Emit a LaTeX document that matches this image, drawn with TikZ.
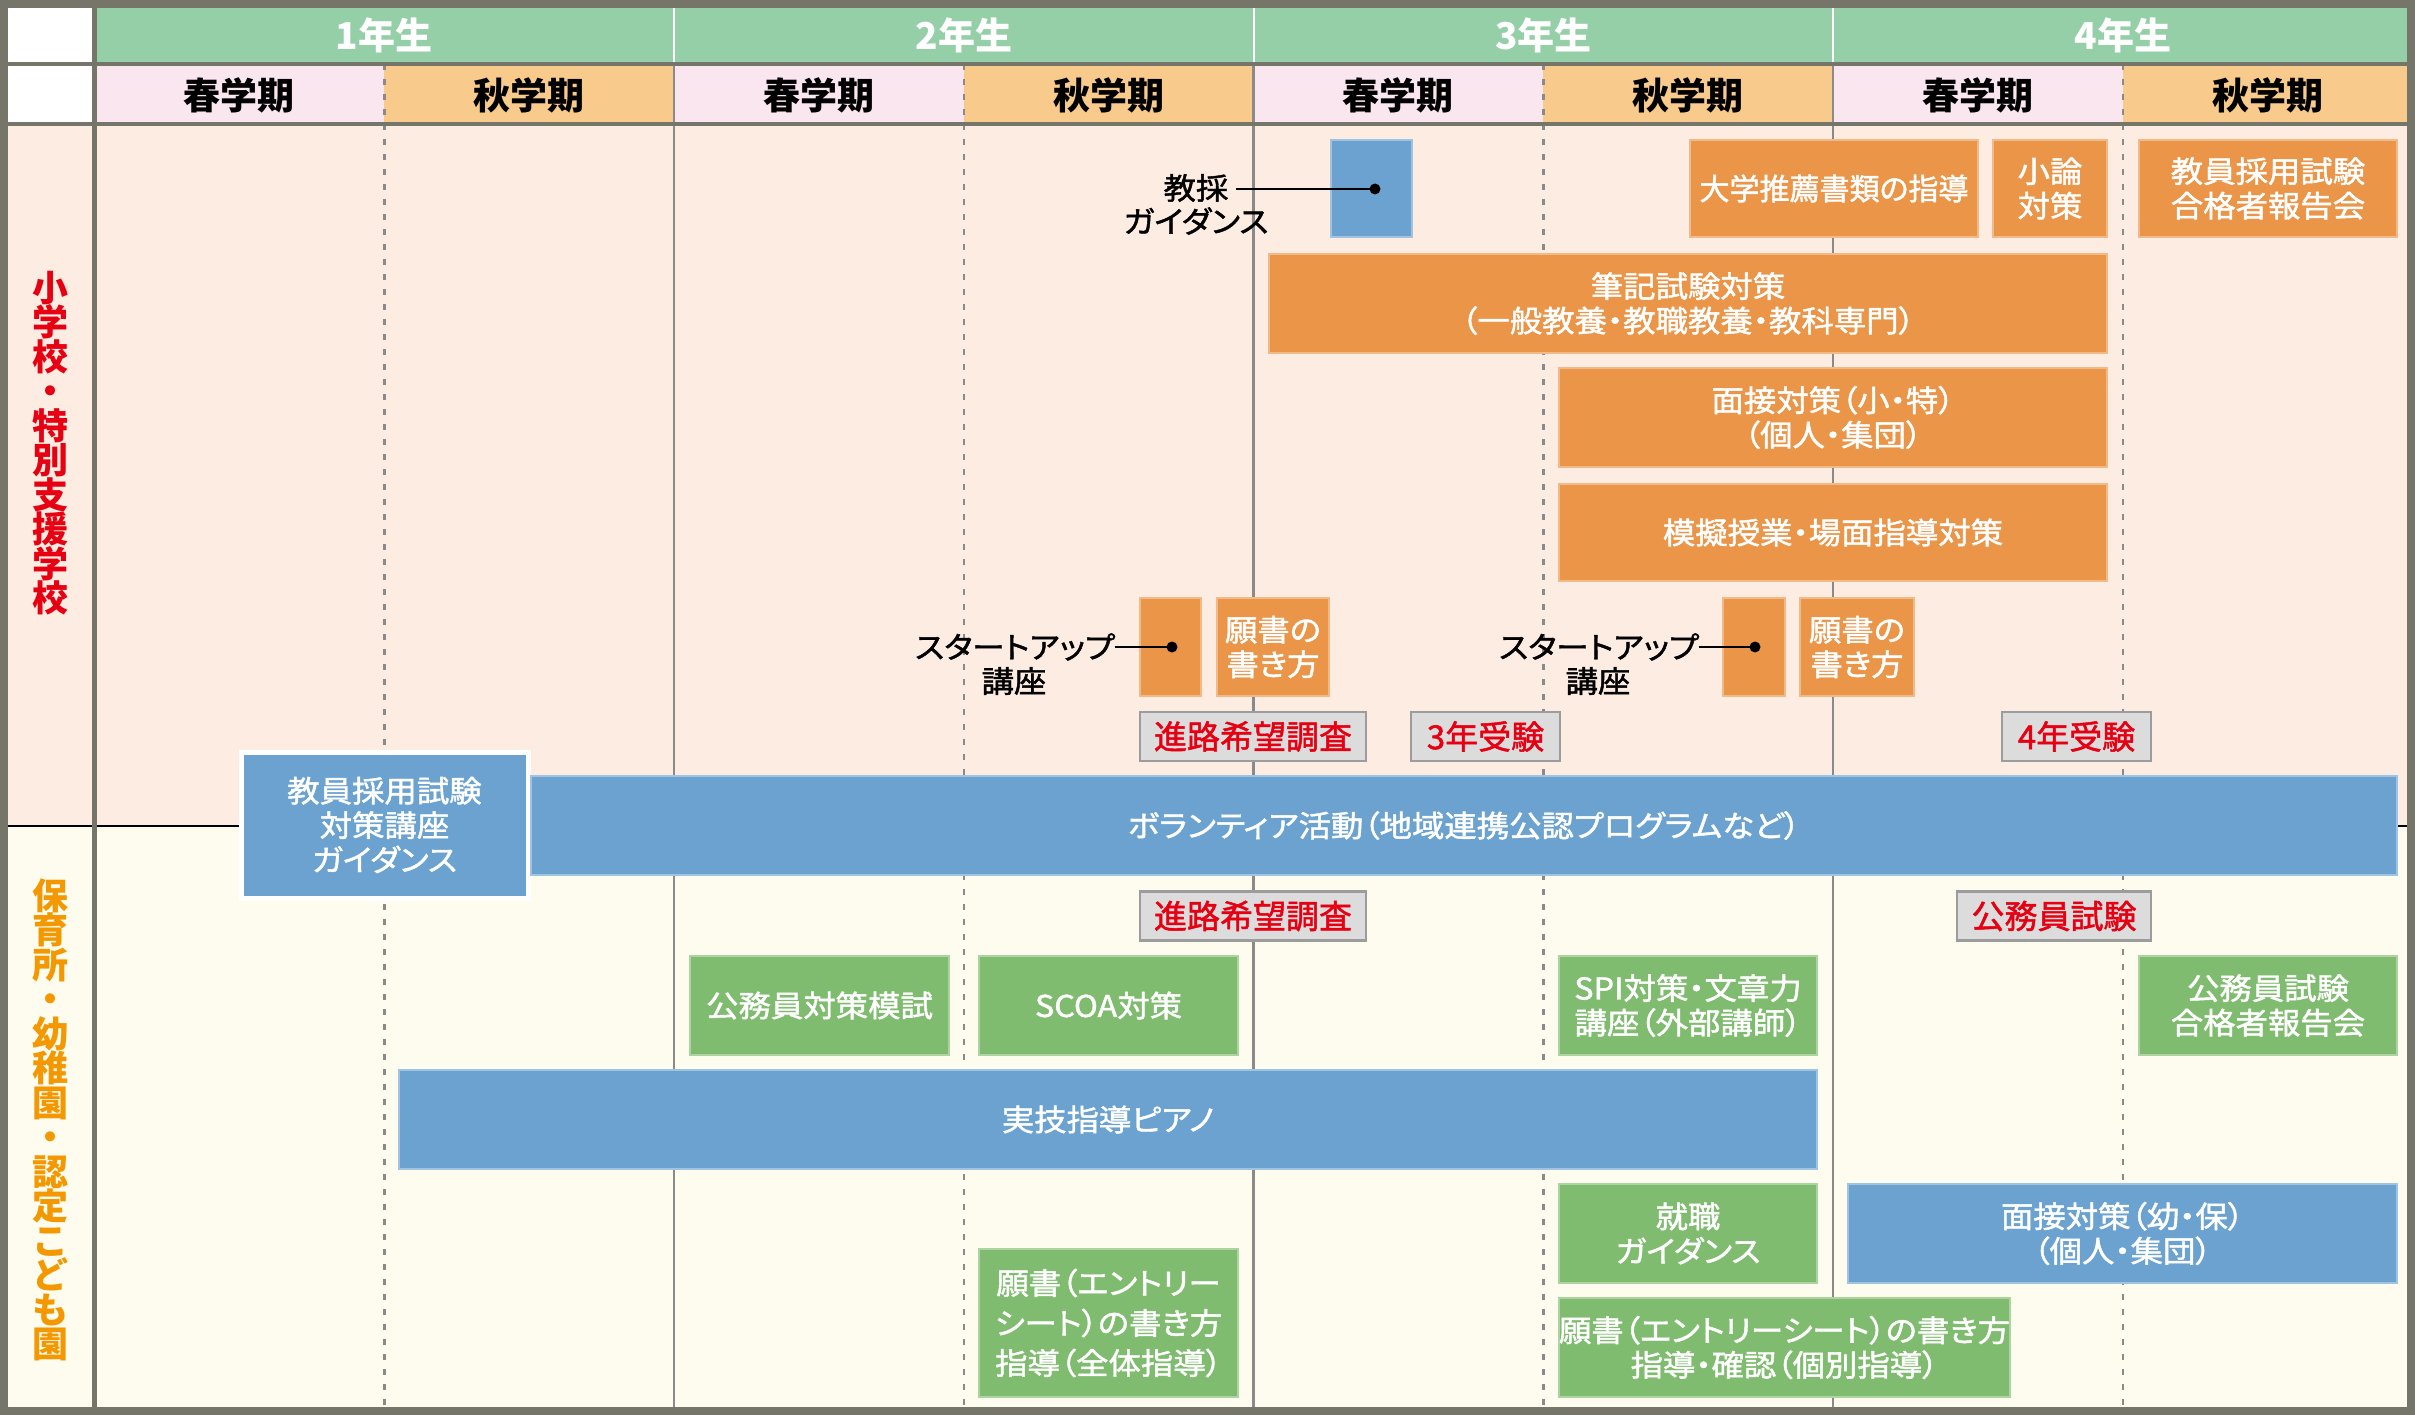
\documentclass[tikz,border=0pt]{standalone}
\usepackage{fontspec}
\setmainfont{Noto Sans CJK JP}
\newfontfamily\medfont{Noto Sans CJK JP}[FakeBold=1.5]
\newfontfamily\boxfont{Noto Sans CJK JP}[RawFeature={+palt},FakeStretch=1.08,FakeBold=1.5]
\newfontfamily\narrowboxfont{Noto Sans CJK JP}[RawFeature={+palt},FakeBold=1.5]
\definecolor{framec}{HTML}{76756A}
\definecolor{yeargreen}{HTML}{94CFA8}
\definecolor{sempink}{HTML}{FAE6EF}
\definecolor{semorange}{HTML}{F8CB8D}
\definecolor{bgtop}{HTML}{FDECE2}
\definecolor{bgbot}{HTML}{FEFBEF}
\definecolor{boxorange}{HTML}{EA9548}
\definecolor{boxblue}{HTML}{6BA2D0}
\definecolor{boxgreen}{HTML}{80BC6F}
\definecolor{tagfill}{HTML}{DCDCDC}
\definecolor{tagline}{HTML}{9C9C9C}
\definecolor{tagred}{HTML}{E60012}
\definecolor{labelorange}{HTML}{F39800}
\definecolor{gridgray}{HTML}{8A8A8A}
\newcommand\fsz[2]{\fontsize{#1}{#2}\selectfont}
\begin{document}
\begin{tikzpicture}[x=1pt,y=-1pt,
  every node/.style={inner sep=0pt,outer sep=0pt},
  evbox/.style={rectangle,align=center,text=white,font=\boxfont\fsz{30}{34.5},line width=2pt},
  obox/.style={evbox,fill=boxorange,draw=boxorange!65!white},
  bbox/.style={evbox,fill=boxblue,draw=boxblue!65!white},
  gbox/.style={evbox,fill=boxgreen,draw=boxgreen!65!white},
  tagbox/.style={rectangle,fill=tagfill,draw=tagline,line width=2.5pt,text=tagred,font=\medfont\fsz{33}{36}},
  callout/.style={font=\boxfont\fsz{30}{34},text=black},
  yeartxt/.style={font=\bfseries\fsz{37}{40},text=white},
  semtxt/.style={font=\bfseries\fsz{37}{40},text=black},
  sidelabel/.style={align=center,font=\bfseries\fsz{36}{34.5}},
  solidgrid/.style={gridgray,line width=2.5pt},
  dashgrid/.style={gridgray,line width=2.5pt,dash pattern=on 6pt off 9pt},
  connector/.style={black,line width=2pt}
]
\useasboundingbox (0,0) rectangle (2415,1415);
% backgrounds
\fill[bgtop] (0,124) rectangle (2415,826);
\fill[bgbot] (0,826) rectangle (2415,1415);
\fill[white] (0,0) rectangle (94.5,124);
\fill[yeargreen] (94.5,0) rectangle (2415,64);
\foreach \i in {0,1,2,3}{
  \fill[sempink] (94.5+579.5*\i,64) rectangle (384.25+579.5*\i,124);
  \fill[semorange] (384.25+579.5*\i,64) rectangle (674+579.5*\i,124);
}
% grid lines
\foreach \x in {674,1253.5,1833}{
  \draw[white,line width=2pt] (\x,4) -- (\x,64);
  \draw[solidgrid] (\x,64) -- (\x,1411);
}
\foreach \x in {384.25,963.75,1543.25,2122.75}{
  \draw[dashgrid] (\x,64) -- (\x,1411);
}
\draw[black,line width=2.5pt] (4,826) -- (2411,826);
% frame
\draw[framec,line width=4.5pt] (0,64) -- (2415,64);
\draw[framec,line width=4.5pt] (0,124) -- (2415,124);
\draw[framec,line width=5pt] (94.5,0) -- (94.5,1415);
\draw[framec,line width=8pt] (4,4) rectangle (2411,1411);
% header texts
\node[yeartxt] (y1) at (384.25,35) {1年生};
\node[yeartxt] (y2) at (963.75,35) {2年生};
\node[yeartxt] (y3) at (1543.25,35) {3年生};
\node[yeartxt] (y4) at (2122.75,35) {4年生};
\node[semtxt] (s1) at (239.4,95) {春学期};
\node[semtxt] (s2) at (529.1,95) {秋学期};
\node[semtxt] (s3) at (818.9,95) {春学期};
\node[semtxt] (s4) at (1108.6,95) {秋学期};
\node[semtxt] (s5) at (1398.4,95) {春学期};
\node[semtxt] (s6) at (1688.1,95) {秋学期};
\node[semtxt] (s7) at (1977.9,95) {春学期};
\node[semtxt] (s8) at (2267.6,95) {秋学期};
% side labels
\node[sidelabel,text=tagred] (side1) at (50,443) {小\\学\\校\\・\\特\\別\\支\\援\\学\\校};
\node[sidelabel,text=labelorange] (side2) at (50,1120) {保\\育\\所\\・\\幼\\稚\\園\\・\\認\\定\\こ\\ど\\も\\園};
% top section boxes
\node[bbox,minimum width=81pt,minimum height=97pt] (kyosai) at (1371.5,188.5) {};
\node[obox,minimum width=288pt,minimum height=97pt,font=\narrowboxfont\fsz{30}{34.5}] (suisen) at (1834,188.5) {大学推薦書類の指導};
\node[obox,minimum width=114pt,minimum height=97pt] (shoron) at (2050,188.5) {小論\\対策};
\node[obox,minimum width=258pt,minimum height=97pt] (gokaku1) at (2268,188.5) {教員採用試験\\合格者報告会};
\node[obox,minimum width=838pt,minimum height=99pt] (hikki) at (1688,303.5) {筆記試験対策\\（一般教養・教職教養・教科専門）};
\node[obox,minimum width=548pt,minimum height=99pt] (mensetsu1) at (1833,417.5) {面接対策（小・特）\\（個人・集団）};
\node[obox,minimum width=548pt,minimum height=97pt] (mogi) at (1833,532.5) {模擬授業・場面指導対策};
\node[obox,minimum width=61pt,minimum height=98pt] (start1) at (1170.5,647) {};
\node[obox,minimum width=112pt,minimum height=98pt] (gan1) at (1273,647) {願書の\\書き方};
\node[obox,minimum width=62pt,minimum height=98pt] (start2) at (1754,647) {};
\node[obox,minimum width=114pt,minimum height=98pt] (gan2) at (1857,647) {願書の\\書き方};
\node[tagbox,minimum width=226pt,minimum height=49pt] (tag1) at (1253,736.5) {進路希望調査};
\node[tagbox,minimum width=149pt,minimum height=49pt] (tag2) at (1485.5,736.5) {3年受験};
\node[tagbox,minimum width=149pt,minimum height=49pt] (tag3) at (2076.5,736.5) {4年受験};
% callouts
\node[callout] (kyA) at (1196,188) {教採};
\node[callout] (kyB) at (1196,221) {ガイダンス};
\coordinate (kydot) at (1375,189);
\draw[connector] (kyA.east |- kydot) ++(8,0) -- (kydot);
\fill (kydot) circle (5.5);
\node[callout] (suA) at (1015,647) {スタートアップ};
\node[callout] (suB) at (1014,681) {講座};
\coordinate (sudot1) at (1172,647);
\draw[connector] (suA.east |- sudot1) -- (sudot1);
\fill (sudot1) circle (5.5);
\node[callout] (suC) at (1599,647) {スタートアップ};
\node[callout] (suD) at (1598,681) {講座};
\coordinate (sudot2) at (1755,647);
\draw[connector] (suC.east |- sudot2) -- (sudot2);
\fill (sudot2) circle (5.5);
% spanning
\node[bbox,draw=white,line width=5pt,minimum width=287pt,minimum height=146pt] (kyoin) at (384.5,825) {教員採用試験\\対策講座\\ガイダンス};
\node[bbox,minimum width=1866pt,minimum height=99pt] (volunteer) at (1464,825.5) {ボランティア活動（地域連携公認プログラムなど）};
% bottom section
\node[tagbox,minimum width=226pt,minimum height=49pt] (tag4) at (1253,916) {進路希望調査};
\node[tagbox,minimum width=194pt,minimum height=49pt] (tag5) at (2054,916) {公務員試験};
\node[gbox,minimum width=259pt,minimum height=99pt] (moshi) at (819.5,1005.5) {公務員対策模試};
\node[gbox,minimum width=259pt,minimum height=99pt] (scoa) at (1108.5,1005.5) {SCOA対策};
\node[gbox,minimum width=258pt,minimum height=99pt] (spi) at (1688,1005.5) {SPI対策・文章力\\講座（外部講師）};
\node[gbox,minimum width=258pt,minimum height=99pt] (gokaku2) at (2268,1005.5) {公務員試験\\合格者報告会};
\node[bbox,minimum width=1418pt,minimum height=99pt] (piano) at (1108,1119.5) {実技指導ピアノ};
\node[gbox,minimum width=258pt,minimum height=99pt] (shushoku) at (1688,1233.5) {就職\\ガイダンス};
\node[bbox,minimum width=549pt,minimum height=99pt] (mensetsu2) at (2122.5,1233.5) {面接対策（幼・保）\\（個人・集団）};
\node[gbox,minimum width=259pt,minimum height=148pt,font=\boxfont\fsz{30}{40}] (ganA) at (1108.5,1323) {願書（エントリー\\シート）の書き方\\指導（全体指導）};
\node[gbox,minimum width=451pt,minimum height=99pt] (ganB) at (1784.5,1347.5) {願書（エントリーシート）の書き方\\指導・確認（個別指導）};
\end{tikzpicture}
\end{document}
